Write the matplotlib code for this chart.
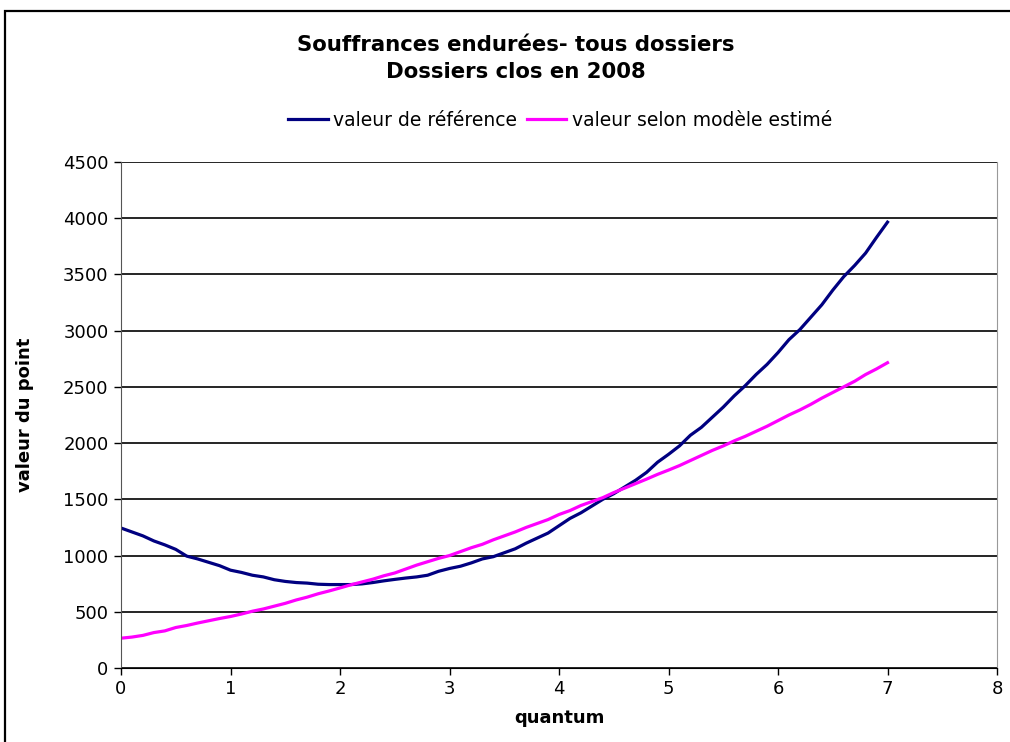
import numpy as np
import matplotlib
matplotlib.use("Agg")
import matplotlib.pyplot as plt
from matplotlib.patches import Rectangle

# Données (pas de 0.1 sur le quantum)
quantum = np.round(np.arange(0, 71) * 0.1, 1)

valeur_reference = [
    1245, 1210, 1175, 1130, 1095, 1055, 995, 970, 940, 910,
    870, 850, 825, 810, 785, 770, 760, 755, 745, 742,
    742, 742, 748, 760, 775, 788, 800, 810, 825, 860,
    885, 905, 935, 970, 990, 1025, 1060, 1110, 1155, 1200,
    1265, 1330, 1380, 1440, 1500, 1550, 1610, 1670, 1740, 1830,
    1900, 1975, 2070, 2140, 2230, 2320, 2420, 2510, 2610, 2700,
    2805, 2920, 3010, 3120, 3230, 3360, 3480, 3580, 3690, 3830,
    3965,
]

valeur_modele = [
    265, 275, 290, 315, 330, 360, 378, 400, 420, 440,
    458, 480, 505, 525, 550, 575, 605, 630, 660, 685,
    712, 740, 765, 790, 820, 845, 880, 915, 945, 975,
    1000, 1035, 1070, 1100, 1140, 1175, 1210, 1250, 1285, 1320,
    1365, 1400, 1445, 1480, 1515, 1560, 1600, 1640, 1680, 1722,
    1760, 1800, 1845, 1890, 1935, 1975, 2020, 2060, 2105, 2150,
    2200, 2250, 2295, 2345, 2400, 2450, 2500, 2550, 2610, 2660,
    2715,
]

y_ticks = [0, 500, 1000, 1500, 2000, 2500, 3000, 3500, 4000, 4500]
x_ticks = [0, 1, 2, 3, 4, 5, 6, 7, 8]

plt.rcParams['font.family'] = ['DejaVu Sans']

fig = plt.figure(figsize=(10.10, 7.42), dpi=100)
ax = fig.add_axes([121 / 1010, 74 / 742, 876 / 1010, 506 / 742])

# cadre de la zone du graphique
fig.patches.append(Rectangle((5 / 1010, -0.05), 1.2, (742 - 11) / 742 + 0.05,
                             transform=fig.transFigure, fill=False,
                             edgecolor='black', linewidth=1.6))

ax.plot(quantum, valeur_reference, color='#000080', linewidth=2.3,
        label='valeur de référence')
ax.plot(quantum, valeur_modele, color='#FF00FF', linewidth=2.3,
        label='valeur selon modèle estimé')

ax.set_xlim(0, 8)
ax.set_ylim(0, 4500)
ax.set_xticks(x_ticks)
ax.set_yticks(y_ticks)
ax.tick_params(axis='both', labelsize=13, direction='out', length=5, width=1)
ax.tick_params(axis='y', pad=4)
ax.yaxis.grid(True, color='black', linewidth=1.2)
ax.set_axisbelow(True)

ax.spines['right'].set_color('#999999')
ax.spines['top'].set_visible(False)
ax.spines['left'].set_color('#555555')

ax.set_xlabel('quantum', fontsize=13, fontweight='bold')
ax.xaxis.set_label_coords(0.5, -41 / 506)
ax.set_ylabel('valeur du point', fontsize=13, fontweight='bold')
ax.yaxis.set_label_coords(-87 / 876, 0.5)

fig.text(0.511, 1 - 45 / 742, 'Souffrances endurées- tous dossiers',
         ha='center', va='center', fontsize=15.3, fontweight='bold')
fig.text(0.511, 1 - 72 / 742, 'Dossiers clos en 2008',
         ha='center', va='center', fontsize=15.3, fontweight='bold')

fig.legend(loc='center', bbox_to_anchor=(560 / 1010, 1 - 120 / 742), ncol=2,
           frameon=False, fontsize=13.5, handlelength=2.1, handletextpad=0.3,
           columnspacing=0.5)

fig.savefig('out.png', dpi=100)
